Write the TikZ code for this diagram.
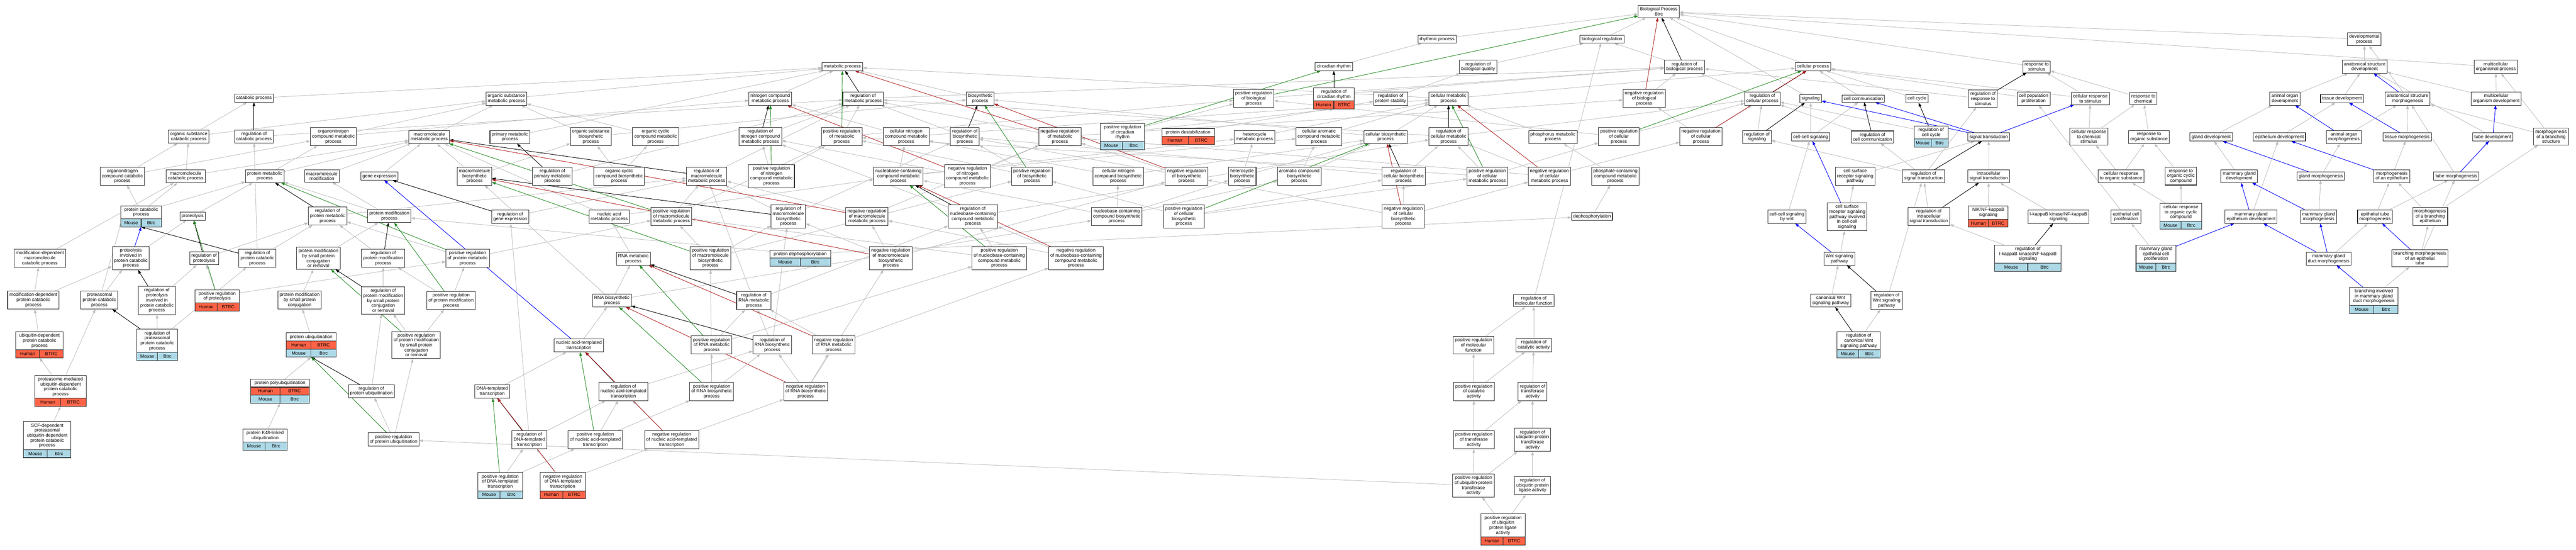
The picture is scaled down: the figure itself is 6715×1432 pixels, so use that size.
\documentclass[tikz,border=0pt]{standalone}
\usepackage{fontspec}
\setmainfont{Liberation Sans}
\usetikzlibrary{positioning,arrows.meta,backgrounds,calc}
\definecolor{tomato}{HTML}{FF6347}
\definecolor{lightblue}{HTML}{ADD8E6}
\definecolor{edgegray}{HTML}{C0C0C0}
\definecolor{posgreen}{HTML}{228B22}
\definecolor{negred}{HTML}{B22222}
\newcommand{\sprow}[6]{%
  \path let \p1 = ($(#1.east)-(#1.west)$) in
    node [name=#3-sp, #4, minimum width=0.5*\x1, below left=0pt and 0pt of #2] {#5}
    node [name=#3-gn, #4, minimum width=0.5*\x1, below right=0pt and 0pt of #2] {#6};}
\newcommand{\humanrow}[3]{\sprow{#1}{#2}{#3}{human}{Human}{BTRC}}
\newcommand{\mouserow}[3]{\sprow{#1}{#2}{#3}{mouse}{Mouse}{Btrc}}

\begin{document}
\begin{tikzpicture}[x=1pt, y=-1pt, font=\fontsize{12pt}{13pt}\selectfont,
	block/.style = { rectangle, draw=black!80, line width=1.4pt, fill=white,
	align=center, inner xsep=4.5pt, inner ysep=5pt, outer sep=0pt },
	spcell/.style = { rectangle, draw=black!80, line width=1.4pt,
	minimum height=21pt, inner sep=0pt, outer sep=0pt },
	human/.style = { spcell, fill=tomato },
	mouse/.style = { spcell, fill=lightblue },
	isa/.style = { draw=edgegray, line width=1.2pt, -{Triangle[length=10pt,width=7pt]} },
	regl/.style = { isa, draw=black },
	upreg/.style = { isa, draw=posgreen },
	downreg/.style = { isa, draw=negred },
	partof/.style = { isa, draw=blue } ]

  \useasboundingbox (0,0) rectangle (6715,1432);

  \node [name=bp, block] at (4324,30) {Biological Process\\Btrc};
  \node [name=rhythm, block] at (3746,102) {rhythmic process};
  \node [name=bioreg, block] at (4176,102) {biological regulation};
  \node [name=dev, block] at (6163,102) {developmental\\process};

  \node [name=metab, block] at (2196,174) {metabolic process};
  \node [name=circ, block] at (3477,174) {circadian rhythm};
  \node [name=regbq, block] at (3853,174) {regulation of\\biological quality};
  \node [name=regbp, block] at (4391,174) {regulation of\\biological process};
  \node [name=cellproc, block] at (4726,174) {cellular process};
  \node [name=resp, block] at (5309,174) {response to\\stimulus};
  \node [name=asdev, block] at (6164,174) {anatomical structure\\development};
  \node [name=mop, block] at (6506,174) {multicellular\\organismal process};

  \node [name=catab, block] at (662,256) {catabolic process};
  \node [name=osmet, block] at (1320,257) {organic substance\\metabolic process};
  \node [name=ncmet, block] at (2008,257) {nitrogen compound\\metabolic process};
  \node [name=regmet, block] at (2250,257) {regulation of\\metabolic process};
  \node [name=biosyn, block] at (2555,257) {biosynthetic\\process};
  \node [name=posregbp, block] at (3268,257) {positive regulation\\of biological\\process};
  \node [name=regcirc, block, minimum width=107pt] at (3477,246) {regulation of\\circadian rhythm};
  \humanrow{regcirc}{regcirc.south}{regcirc}
  \node [name=regpstab, block] at (3625,257) {regulation of\\protein stability};
  \node [name=cellmet, block] at (3776,257) {cellular metabolic\\process};
  \node [name=negregbp, block] at (4286,257) {negative regulation\\of biological\\process};
  \node [name=regcp, block] at (4594,257) {regulation of\\cellular process};
  \node [name=signal, block] at (4720,257) {signaling};
  \node [name=cellcom, block] at (4857,257) {cell communication};
  \node [name=cellcyc, block] at (4997,257) {cell cycle};
  \node [name=regresp, block] at (5169,257) {regulation of\\response to\\stimulus};
  \node [name=cellprol, block] at (5301,257) {cell population\\proliferation};
  \node [name=cresp, block] at (5449,257) {cellular response\\to stimulus};
  \node [name=respchem, block] at (5587,257) {response to\\chemical};
  \node [name=aodev, block] at (5956,257) {animal organ\\development};
  \node [name=tdev, block] at (6105,257) {tissue development};
  \node [name=asmorph, block] at (6276,257) {anatomical structure\\morphogenesis};
  \node [name=modev, block] at (6507,257) {multicellular\\organism development};

  \node [name=orgcat, block] at (492,356) {organic substance\\catabolic process};
  \node [name=regcat, block] at (662,356) {regulation of\\catabolic process};
  \node [name=onmet, block] at (869,356) {organonitrogen\\compound metabolic\\process};
  \node [name=mmmet, block] at (1119,357) {macromolecule\\metabolic process};
  \node [name=primet, block] at (1329,357) {primary metabolic\\process};
  \node [name=osbio, block] at (1540,356) {organic substance\\biosynthetic\\process};
  \node [name=occmet, block] at (1709,356) {organic cyclic\\compound metabolic\\process};
  \node [name=regncm, block] at (1982,356) {regulation of\\nitrogen compound\\metabolic process};
  \node [name=posregmet, block] at (2194,356) {positive regulation\\of metabolic\\process};
  \node [name=cncmet, block] at (2362,356) {cellular nitrogen\\compound metabolic\\process};
  \node [name=regbio, block] at (2515,356) {regulation of\\biosynthetic\\process};
  \node [name=negregmet, block] at (2763,356) {negative regulation\\of metabolic\\process};
  \node [name=poscirc, block, minimum width=116pt] at (2926,345) {positive regulation\\of circadian\\rhythm};
  \mouserow{poscirc}{poscirc.south}{poscirc}
  \node [name=pdestab, block, minimum width=137pt] at (3097,345) {protein destabilization};
  \humanrow{pdestab}{pdestab.south}{pdestab}
  \node [name=hetmet, block] at (3270,357) {heterocycle\\metabolic process};
  \node [name=caromet, block] at (3438,356) {cellular aromatic\\compound metabolic\\process};
  \node [name=cellbio, block] at (3612,357) {cellular biosynthetic\\process};
  \node [name=regcm, block] at (3776,356) {regulation of\\cellular metabolic\\process};
  \node [name=phosmet, block] at (4048,357) {phosphorus metabolic\\process};
  \node [name=posregcp, block] at (4220,356) {positive regulation\\of cellular\\process};
  \node [name=negregcp, block] at (4434,356) {negative regulation\\of cellular\\process};
  \node [name=regsig, block] at (4580,357) {regulation of\\signaling};
  \node [name=ccsig, block] at (4720,357) {cell-cell signaling};
  \node [name=regcc, block] at (4881,357) {regulation of\\cell communication};
  \node [name=regcyc, block, minimum width=89pt] at (5034,345) {regulation of\\cell cycle};
  \mouserow{regcyc}{regcyc.south}{regcyc}
  \node [name=sigtr, block] at (5184,357) {signal transduction};
  \node [name=crchem, block] at (5445,356) {cellular response\\to chemical\\stimulus};
  \node [name=resporg, block] at (5602,357) {response to\\organic substance};
  \node [name=glanddev, block] at (5764,357) {gland development};
  \node [name=epidev, block] at (5942,357) {epithelium development};
  \node [name=aomorph, block] at (6110,357) {animal organ\\morphogenesis};
  \node [name=tmorph, block] at (6275,357) {tissue morphogenesis};
  \node [name=tubedev, block] at (6498,357) {tube development};
  \node [name=mbs, block] at (6650,356) {morphogenesis\\of a branching\\structure};

  \node [name=oncat, block] at (319,459) {organonitrogen\\compound catabolic\\process};
  \node [name=mmcat, block] at (484,459) {macromolecule\\catabolic process};
  \node [name=protmet, block] at (690,459) {protein metabolic\\process};
  \node [name=mmmod, block] at (839,459) {macromolecule\\modification};
  \node [name=genex, block] at (989,459) {gene expression};
  \node [name=mmbio, block] at (1237,459) {macromolecule\\biosynthetic\\process};
  \node [name=regprim, block] at (1440,459) {regulation of\\primary metabolic\\process};
  \node [name=occbio, block] at (1614,459) {organic cyclic\\compound biosynthetic\\process};
  \node [name=regmmm, block] at (1842,459) {regulation of\\macromolecule\\metabolic process};
  \node [name=posregncm, block] at (2011,459) {positive regulation\\of nitrogen\\compound metabolic\\process};
  \node [name=nbcmet, block] at (2342,459) {nucleobase-containing\\compound metabolic\\process};
  \node [name=negregncm, block] at (2522,459) {negative regulation\\of nitrogen\\compound metabolic\\process};
  \node [name=posregbio, block] at (2690,459) {positive regulation\\of biosynthetic\\process};
  \node [name=cncbio, block] at (2915,459) {cellular nitrogen\\compound biosynthetic\\process};
  \node [name=negregbio, block] at (3093,459) {negative regulation\\of biosynthetic\\process};
  \node [name=hetbio, block] at (3238,459) {heterocycle\\biosynthetic\\process};
  \node [name=arombio, block] at (3387,459) {aromatic compound\\biosynthetic\\process};
  \node [name=regcb, block] at (3659,459) {regulation of\\cellular biosynthetic\\process};
  \node [name=posregcm, block] at (3877,459) {positive regulation\\of cellular\\metabolic process};
  \node [name=negregcm, block] at (4039,459) {negative regulation\\of cellular\\metabolic process};
  \node [name=phcmet, block] at (4211,459) {phosphate-containing\\compound metabolic\\process};
  \node [name=csrsp, block] at (4836,459) {cell surface\\receptor signaling\\pathway};
  \node [name=regsigtr, block] at (5014,459) {regulation of\\signal transduction};
  \node [name=intsig, block] at (5184,459) {intracellular\\signal transduction};
  \node [name=crorg, block] at (5529,459) {cellular response\\to organic substance};
  \node [name=rocc, block] at (5685,459) {response to\\organic cyclic\\compound};
  \node [name=mgdev, block] at (5837,459) {mammary gland\\development};
  \node [name=gmorph, block] at (6050,459) {gland morphogenesis};
  \node [name=mepi, block] at (6235,459) {morphogenesis\\of an epithelium};
  \node [name=tubemorph, block] at (6403,459) {tube morphogenesis};

  \node [name=protcat, block, minimum width=105pt] at (368,553) {protein catabolic\\process};
  \mouserow{protcat}{protcat.south}{protcat}
  \node [name=proteol, block] at (502,563) {proteolysis};
  \node [name=regpm, block] at (854,563) {regulation of\\protein metabolic\\process};
  \node [name=pmod, block] at (1015,563) {protein modification\\process};
  \node [name=reggex, block] at (1330,565) {regulation of\\gene expression};
  \node [name=nametab, block] at (1588,565) {nucleic acid\\metabolic process};
  \node [name=posregmmm, block] at (1750,564) {positive regulation\\of macromolecule\\metabolic process};
  \node [name=regmmb, block] at (2055,564) {regulation of\\macromolecule\\biosynthetic\\process};
  \node [name=negregmmm, block] at (2260,564) {negative regulation\\of macromolecule\\metabolic process};
  \node [name=regnbc, block] at (2536,564) {regulation of\\nucleobase-containing\\compound metabolic\\process};
  \node [name=nbcbio, block] at (2911,564) {nucleobase-containing\\compound biosynthetic\\process};
  \node [name=posregcb, block] at (3086,564) {positive regulation\\of cellular\\biosynthetic\\process};
  \node [name=negregcb, block] at (3658,564) {negative regulation\\of cellular\\biosynthetic\\process};
  \node [name=dephos, block] at (4150,564) {dephosphorylation};
  \node [name=ccwnt, block] at (4658,565) {cell-cell signaling\\by wnt};
  \node [name=csrcc, block] at (4815,565) {cell surface\\receptor signaling\\pathway involved\\in cell-cell\\signaling};
  \node [name=regint, block] at (5028,564) {regulation of\\intracellular\\signal transduction};
  \node [name=nik, block, minimum width=103pt] at (5183,554) {NIK/NF-kappaB\\signaling};
  \humanrow{nik}{nik.south}{nik}
  \node [name=ikk, block] at (5366,565) {I-kappaB kinase/NF-kappaB\\signaling};
  \node [name=epiprol, block] at (5542,565) {epithelial cell\\proliferation};
  \node [name=crocc, block, minimum width=108pt] at (5685,553) {cellular response\\to organic cyclic\\compound};
  \mouserow{crocc}{crocc.south}{crocc}
  \node [name=mged, block] at (5868,565) {mammary gland\\epithelium development};
  \node [name=mgmorph, block] at (6044,565) {mammary gland\\morphogenesis};
  \node [name=etmorph, block] at (6191,565) {epithelial tube\\morphogenesis};
  \node [name=mbe, block] at (6335,564) {morphogenesis\\of a branching\\epithelium};

  \node [name=mdmcat, block] at (104,673) {modification-dependent\\macromolecule\\catabolic process};
  \node [name=pipc, block] at (341,673) {proteolysis\\involved in\\protein catabolic\\process};
  \node [name=regprot, block] at (532,673) {regulation of\\proteolysis};
  \node [name=regpc, block] at (671,673) {regulation of\\protein catabolic\\process};
  \node [name=pmsp, block] at (830,673) {protein modification\\by small protein\\conjugation\\or removal};
  \node [name=regpmod, block] at (999,673) {regulation of\\protein modification\\process};
  \node [name=posregpm, block] at (1219,673) {positive regulation\\of protein metabolic\\process};
  \node [name=rnamet, block] at (1651,674) {RNA metabolic\\process};
  \node [name=posregmmb, block] at (1852,673) {positive regulation\\of macromolecule\\biosynthetic\\process};
  \node [name=pdephos, block, minimum width=158pt] at (2086,662) {protein dephosphorylation};
  \mouserow{pdephos}{pdephos.south}{pdephos}
  \node [name=negregmmb, block] at (2322,673) {negative regulation\\of macromolecule\\biosynthetic\\process};
  \node [name=posregnbc, block] at (2605,673) {positive regulation\\of nucleobase-containing\\compound metabolic\\process};
  \node [name=negregnbc, block] at (2805,673) {negative regulation\\of nucleobase-containing\\compound metabolic\\process};
  \node [name=wnt, block] at (4795,674) {Wnt signaling\\pathway};
  \node [name=regikk, block, minimum width=174pt] at (5286,662) {regulation of\\I-kappaB kinase/NF-kappaB\\signaling};
  \mouserow{regikk}{regikk.south}{regikk}
  \node [name=mgecp, block, minimum width=104pt] at (5620,662) {mammary gland\\epithelial cell\\proliferation};
  \mouserow{mgecp}{mgecp.south}{mgecp}
  \node [name=mgdm, block] at (6070,674) {mammary gland\\duct morphogenesis};
  \node [name=bmet, block] at (6308,673) {branching morphogenesis\\of an epithelial\\tube};

  \node [name=mdpcat, block] at (87,782) {modification-dependent\\protein catabolic\\process};
  \node [name=ppcat, block] at (259,782) {proteasomal\\protein catabolic\\process};
  \node [name=regpipc, block] at (409,783) {regulation of\\proteolysis\\involved in\\protein catabolic\\process};
  \node [name=posprot, block, minimum width=115pt] at (566,772) {positive regulation\\of proteolysis};
  \humanrow{posprot}{posprot.south}{posprot}
  \node [name=pmspc, block] at (781,782) {protein modification\\by small protein\\conjugation};
  \node [name=regpmsp, block] at (999,783) {regulation of\\protein modification\\by small protein\\conjugation\\or removal};
  \node [name=posregpmod, block] at (1176,783) {positive regulation\\of protein modification\\process};
  \node [name=rnabio, block] at (1595,783) {RNA biosynthetic\\process};
  \node [name=regrnam, block] at (1965,783) {regulation of\\RNA metabolic\\process};
  \node [name=regmf, block] at (3998,783) {regulation of\\molecular function};
  \node [name=cwnt, block] at (4772,783) {canonical Wnt\\signaling pathway};
  \node [name=regwnt, block] at (4918,783) {regulation of\\Wnt signaling\\pathway};
  \node [name=bimgdm, block, minimum width=127pt] at (6188,772) {branching involved\\in mammary gland\\duct morphogenesis};
  \mouserow{bimgdm}{bimgdm.south}{bimgdm}

  \node [name=ubcat, block, minimum width=124pt] at (103,888) {ubiquitin-dependent\\protein catabolic\\process};
  \humanrow{ubcat}{ubcat.south}{ubcat}
  \node [name=regppc, block, minimum width=106pt] at (410,888) {regulation of\\proteasomal\\protein catabolic\\process};
  \mouserow{regppc}{regppc.south}{regppc}
  \node [name=pubq, block, minimum width=130pt] at (811,878) {protein ubiquitination};
  \humanrow{pubq}{pubq.south}{pubq}
  \mouserow{pubq}{pubq-sp.south east}{pubq2}
  \node [name=posregpmsp, block] at (1085,899) {positive regulation\\of protein modification\\by small protein\\conjugation\\or removal};
  \node [name=natt, block] at (1509,900) {nucleic acid-templated\\transcription};
  \node [name=posrnam, block] at (1855,899) {positive regulation\\of RNA metabolic\\process};
  \node [name=regrnab, block] at (2013,899) {regulation of\\RNA biosynthetic\\process};
  \node [name=negrnam, block] at (2173,899) {negative regulation\\of RNA metabolic\\process};
  \node [name=posregmf, block] at (3841,899) {positive regulation\\of molecular\\function};
  \node [name=regcata, block] at (3998,899) {regulation of\\catalytic activity};
  \node [name=regcwnt, block, minimum width=113pt] at (4845,888) {regulation of\\canonical Wnt\\signaling pathway};
  \mouserow{regcwnt}{regcwnt.south}{regcwnt}

  \node [name=pmubq, block, minimum width=134pt] at (158,1008) {proteasome-mediated\\ubiquitin-dependent\\protein catabolic\\process};
  \humanrow{pmubq}{pmubq.south}{pmubq}
  \node [name=polyubq, block, minimum width=152pt] at (730,998) {protein polyubiquitination};
  \humanrow{polyubq}{polyubq.south}{polyubq}
  \mouserow{polyubq}{polyubq-sp.south east}{polyubq2}
  \node [name=regpubq, block] at (968,1019) {regulation of\\protein ubiquitination};
  \node [name=dnatt, block] at (1283,1020) {DNA-templated\\transcription};
  \node [name=regnatt, block] at (1625,1020) {regulation of\\nucleic acid-templated\\transcription};
  \node [name=posrnab, block] at (1855,1020) {positive regulation\\of RNA biosynthetic\\process};
  \node [name=negrnab, block] at (2100,1020) {negative regulation\\of RNA biosynthetic\\process};
  \node [name=posregcata, block] at (3842,1020) {positive regulation\\of catalytic\\activity};
  \node [name=regtra, block] at (3995,1020) {regulation of\\transferase\\activity};

  \node [name=scf, block, minimum width=124pt] at (123,1135) {SCF-dependent\\proteasomal\\ubiquitin-dependent\\protein catabolic\\process};
  \mouserow{scf}{scf.south}{scf}
  \node [name=k48, block, minimum width=115pt] at (691,1135) {protein K48-linked\\ubiquitination};
  \mouserow{k48}{k48.south}{k48}
  \node [name=posregpubq, block] at (1026,1145) {positive regulation\\of protein ubiquitination};
  \node [name=regdnatt, block] at (1380,1146) {regulation of\\DNA-templated\\transcription};
  \node [name=posnatt, block] at (1552,1146) {positive regulation\\of nucleic acid-templated\\transcription};
  \node [name=negnatt, block] at (1751,1146) {negative regulation\\of nucleic acid-templated\\transcription};
  \node [name=posregtra, block] at (3842,1146) {positive regulation\\of transferase\\activity};
  \node [name=regubtra, block] at (3995,1146) {regulation of\\ubiquitin-protein\\transferase\\activity};

  \node [name=posdnatt, block, minimum width=116pt] at (1304,1255) {positive regulation\\of DNA-templated\\transcription};
  \mouserow{posdnatt}{posdnatt.south}{posdnatt}
  \node [name=negdnatt, block, minimum width=119pt] at (1467,1255) {negative regulation\\of DNA-templated\\transcription};
  \humanrow{negdnatt}{negdnatt.south}{negdnatt}
  \node [name=posregubtra, block] at (3841,1265) {positive regulation\\of ubiquitin-protein\\transferase\\activity};
  \node [name=regubl, block] at (3995,1265) {regulation of\\ubiquitin protein\\ligase activity};
  \node [name=posregubl, block, minimum width=116pt] at (3918,1369) {positive regulation\\of ubiquitin\\protein ligase\\activity};
  \humanrow{posregubl}{posregubl.south}{posregubl}

  \begin{scope}[on background layer]
  \fill [white] (0,0) rectangle (6715,1432);
  \draw [isa] (catab) -- (metab);
  \draw [isa] (orgcat) -- (catab);
  \draw [isa] (orgcat) -- (osmet);
  \draw [isa] (regcat) -- (regmet);
  \draw [isa] (onmet) -- (osmet);
  \draw [isa] (onmet) -- (ncmet);
  \draw [isa] (mmmet) -- (osmet);
  \draw [isa] (oncat) -- (orgcat);
  \draw [isa] (oncat) -- (onmet);
  \draw [isa] (mmcat) -- (orgcat);
  \draw [isa] (mmcat) -- (mmmet);
  \draw [isa] (protmet) -- (onmet);
  \draw [isa] (protmet) -- (mmmet);
  \draw [isa] (mmmod) -- (mmmet);
  \draw [isa] (genex) -- (mmmet);
  \draw [isa] (protcat) -- (oncat);
  \draw [isa] (protcat) -- (mmcat);
  \draw [isa] (protcat) -- (protmet);
  \draw [isa] (proteol) -- (protmet);
  \draw [isa] (regpm) -- (regmmm);
  \draw [isa] (pmod) -- (mmmod);
  \draw [isa] (pmod) -- (protmet);
  \draw [isa] (mdmcat) -- (mmcat);
  \draw [isa] (pipc) -- (proteol);
  \draw [isa] (regprot) -- (regpm);
  \draw [isa] (regpc) -- (regcat);
  \draw [isa] (regpc) -- (regpm);
  \draw [isa] (pmsp) -- (pmod);
  \draw [isa] (regpmod) -- (regpm);
  \draw [isa] (mdpcat) -- (mdmcat);
  \draw [isa] (mdpcat) -- (pipc);
  \draw [isa] (ppcat) -- (pipc);
  \draw [isa] (ppcat) -- (protcat-sp.west);
  \draw [isa] (regpipc) -- (regprot);
  \draw [isa] (posprot) -- (regprot);
  \draw [isa] (posprot) -- (posregpm);
  \draw [isa] (pmspc) -- (pmsp);
  \draw [isa] (regpmsp) -- (regpmod);
  \draw [isa] (posregpmod) -- (regpmod);
  \draw [isa] (posregpmod) -- (posregpm);
  \draw [isa] (ubcat) -- (mdpcat);
  \draw [isa] (pmubq) -- (ubcat-sp.south east);
  \draw [isa] (pmubq) -- (ppcat);
  \draw [isa] (scf) -- (pmubq-sp.south east);
  \draw [isa] (regppc) -- (regpipc);
  \draw [isa] (regppc) -- (regpc);
  \draw [isa] (pubq) -- (pmspc);
  \draw [isa] (polyubq) -- (pubq2-sp.south east);
  \draw [isa] (k48) -- (polyubq2-sp.south east);
  \draw [isa] (regpubq) -- (regpmsp);
  \draw [isa] (posregpubq) -- (regpubq);
  \draw [isa] (posregpubq) -- (posregpmsp);
  \draw [isa] (posregpmsp) -- (regpmsp);
  \draw [isa] (posregpmsp) -- (posregpmod);
  \draw [isa] (posregpm) -- (regpm);
  \draw [isa] (posregpm) -- (posregmmm);
  \draw [isa] (pdephos) -- (pmod);
  \draw [isa] (pdephos) -- (dephos);
  \draw [isa] (osmet) -- (metab);
  \draw [isa] (ncmet) -- (metab);
  \draw [isa] (primet) -- (metab);
  \draw [isa] (biosyn) -- (metab);
  \draw [isa] (cellmet) -- (metab);
  \draw [isa] (osbio) -- (osmet);
  \draw [isa] (osbio) -- (biosyn);
  \draw [isa] (occmet) -- (osmet);
  \draw [isa] (mmbio) -- (mmmet);
  \draw [isa] (mmbio) -- (osbio);
  \draw [isa] (regprim) -- (regmet);
  \draw [isa] (occbio) -- (occmet);
  \draw [isa] (occbio) -- (osbio);
  \draw [isa] (regmmm) -- (regmet);
  \draw [isa] (regncm) -- (regmet);
  \draw [isa] (posregncm) -- (regncm);
  \draw [isa] (posregncm) -- (posregmet);
  \draw [isa] (posregmet) -- (regmet);
  \draw [isa] (posregmet) -- (posregbp);
  \draw [isa] (reggex) -- (regmmm);
  \draw [isa] (nametab) -- (nbcmet);
  \draw [isa] (nametab) -- (mmmet);
  \draw [isa] (posregmmm) -- (regmmm);
  \draw [isa] (posregmmm) -- (posregmet);
  \draw [isa] (regmmb) -- (regmmm);
  \draw [isa] (regmmb) -- (regbio);
  \draw [isa] (negregmmm) -- (regmmm);
  \draw [isa] (negregmmm) -- (negregmet);
  \draw [isa] (rnamet) -- (nametab);
  \draw [isa] (posregmmb) -- (posregmmm);
  \draw [isa] (posregmmb) -- (regmmb);
  \draw [isa] (posregmmb) -- (posregbio);
  \draw [isa] (rnabio) -- (rnamet);
  \draw [isa] (rnabio) -- (nbcbio);
  \draw [isa] (rnabio) -- (mmbio);
  \draw [isa] (regrnam) -- (regnbc);
  \draw [isa] (regrnam) -- (regmmm);
  \draw [isa] (natt) -- (rnabio);
  \draw [isa] (posrnam) -- (regrnam);
  \draw [isa] (posrnam) -- (posregnbc);
  \draw [isa] (regrnab) -- (regrnam);
  \draw [isa] (regrnab) -- (regmmb);
  \draw [isa] (negrnam) -- (regrnam);
  \draw [isa] (negrnam) -- (negregnbc);
  \draw [isa] (dnatt) -- (natt);
  \draw [isa] (regnatt) -- (regrnab);
  \draw [isa] (posrnab) -- (posrnam);
  \draw [isa] (posrnab) -- (regrnab);
  \draw [isa] (posrnab) -- (posregmmb);
  \draw [isa] (negrnab) -- (regrnab);
  \draw [isa] (negrnab) -- (negrnam);
  \draw [isa] (negrnab) -- (negregmmb);
  \draw [isa] (regdnatt) -- (regnatt);
  \draw [isa] (regdnatt) -- (reggex);
  \draw [isa] (posnatt) -- (regnatt);
  \draw [isa] (posnatt) -- (posrnab);
  \draw [isa] (negnatt) -- (regnatt);
  \draw [isa] (negnatt) -- (negrnab);
  \draw [isa] (posdnatt) -- (regdnatt);
  \draw [isa] (posdnatt) -- (posnatt);
  \draw [isa] (negdnatt) -- (regdnatt);
  \draw [isa] (negdnatt) -- (negnatt);
  \draw [isa] (posregubtra) -- (posregpubq);
  \draw [isa] (cncmet) -- (ncmet);
  \draw [isa] (cncmet) -- (cellmet);
  \draw [isa] (regbio) -- (regmet);
  \draw [isa] (negregmet) -- (regmet);
  \draw [isa] (negregmet) -- (negregbp);
  \draw [isa] (poscirc) -- (posregbp);
  \draw [isa] (poscirc) -- (regcirc-sp.south east);
  \draw [isa] (pdestab) -- (regpstab);
  \draw [isa] (hetmet) -- (cellmet);
  \draw [isa] (nbcmet) -- (cncmet);
  \draw [isa] (nbcmet) -- (hetmet);
  \draw [isa] (nbcmet) -- (caromet);
  \draw [isa] (negregncm) -- (regncm);
  \draw [isa] (negregncm) -- (negregmet);
  \draw [isa] (posregbio) -- (regbio);
  \draw [isa] (posregbio) -- (posregmet);
  \draw [isa] (cncbio) -- (cncmet);
  \draw [isa] (cncbio) -- (cellbio);
  \draw [isa] (negregbio) -- (regbio);
  \draw [isa] (negregbio) -- (negregmet);
  \draw [isa] (hetbio) -- (hetmet);
  \draw [isa] (hetbio) -- (cellbio);
  \draw [isa] (arombio) -- (caromet);
  \draw [isa] (arombio) -- (cellbio);
  \draw [isa] (regnbc) -- (regncm);
  \draw [isa] (regnbc) -- (regcm);
  \draw [isa] (nbcbio) -- (nbcmet);
  \draw [isa] (nbcbio) -- (cncbio);
  \draw [isa] (nbcbio) -- (hetbio);
  \draw [isa] (nbcbio) -- (arombio);
  \draw [isa] (posregcb) -- (regcb);
  \draw [isa] (posregcb) -- (posregbio);
  \draw [isa] (posregcb) -- (posregcm);
  \draw [isa] (negregmmb) -- (negregmmm);
  \draw [isa] (negregmmb) -- (regmmb);
  \draw [isa] (negregmmb) -- (negregbio);
  \draw [isa] (posregnbc) -- (regnbc);
  \draw [isa] (posregnbc) -- (posregmmm);
  \draw [isa] (negregnbc) -- (regnbc);
  \draw [isa] (negregnbc) -- (negregmmm);
  \draw [isa] (rhythm) -- (bp);
  \draw [isa] (bioreg) -- (bp);
  \draw [isa] (cellproc) -- (bp);
  \draw [isa] (resp) -- (bp);
  \draw [isa] (dev) -- (bp);
  \draw [isa] (mop) -- (bp);
  \draw [isa] (signal) -- (bp);
  \draw [isa] (circ) -- (rhythm);
  \draw [isa] (regbq) -- (bioreg);
  \draw [isa] (regbp) -- (bioreg);
  \draw [isa] (regmf) -- (bioreg);
  \draw [isa] (regcirc) -- (regbp);
  \draw [isa] (regmet) -- (regbp);
  \draw [isa] (regpstab) -- (regbq);
  \draw [isa] (negregbp) -- (regbp);
  \draw [isa] (posregbp) -- (regbp);
  \draw [isa] (cellmet) -- (cellproc);
  \draw [isa] (caromet) -- (cellmet);
  \draw [isa] (cellbio) -- (cellmet);
  \draw [isa] (cellbio) -- (biosyn);
  \draw [isa] (phosmet) -- (cellmet);
  \draw [isa] (posregcp) -- (regcp);
  \draw [isa] (posregcp) -- (posregbp);
  \draw [isa] (negregcp) -- (regcp);
  \draw [isa] (negregcp) -- (negregbp);
  \draw [isa] (regcb) -- (regcm);
  \draw [isa] (regcb) -- (regbio);
  \draw [isa] (regcm) -- (regcp);
  \draw [isa] (regcm) -- (regmet);
  \draw [isa] (posregcm) -- (regcm);
  \draw [isa] (posregcm) -- (posregcp);
  \draw [isa] (posregcm) -- (posregmet);
  \draw [isa] (negregcm) -- (regcm);
  \draw [isa] (negregcm) -- (negregcp);
  \draw [isa] (negregcm) -- (negregmet);
  \draw [isa] (phcmet) -- (phosmet);
  \draw [isa] (negregcb) -- (regcb);
  \draw [isa] (negregcb) -- (negregcm);
  \draw [isa] (negregcb) -- (negregbio);
  \draw [isa] (dephos) -- (phcmet);
  \draw [isa] (regcp) -- (regbp);
  \draw [isa] (posregmf) -- (regmf);
  \draw [isa] (regcata) -- (regmf);
  \draw [isa] (posregcata) -- (posregmf);
  \draw [isa] (posregcata) -- (regcata);
  \draw [isa] (regtra) -- (regcata);
  \draw [isa] (posregtra) -- (posregcata);
  \draw [isa] (posregtra) -- (regtra);
  \draw [isa] (regubtra) -- (regtra);
  \draw [isa] (posregubtra) -- (posregtra);
  \draw [isa] (posregubtra) -- (regubtra);
  \draw [isa] (regubl) -- (regubtra);
  \draw [isa] (posregubl) -- (posregubtra);
  \draw [isa] (posregubl) -- (regubl);
  \draw [isa] (cellcom) -- (cellproc);
  \draw [isa] (cellcyc) -- (cellproc);
  \draw [isa] (cellprol) -- (cellproc);
  \draw [isa] (cresp) -- (cellproc);
  \draw [isa] (regresp) -- (regbp);
  \draw [isa] (cresp) -- (resp);
  \draw [isa] (respchem) -- (resp);
  \draw [isa] (regsig) -- (regcp);
  \draw [isa] (ccsig) -- (signal);
  \draw [isa] (ccsig) -- (cellcom);
  \draw [isa] (regcc) -- (regcp);
  \draw [isa] (regcyc) -- (regcp);
  \draw [isa] (crchem) -- (cresp);
  \draw [isa] (crchem) -- (respchem);
  \draw [isa] (resporg) -- (respchem);
  \draw [isa] (csrsp) -- (sigtr);
  \draw [isa] (regsigtr) -- (regsig);
  \draw [isa] (regsigtr) -- (regcc);
  \draw [isa] (regsigtr) -- (regresp);
  \draw [isa] (intsig) -- (sigtr);
  \draw [isa] (crorg) -- (crchem);
  \draw [isa] (crorg) -- (resporg);
  \draw [isa] (ccwnt) -- (ccsig);
  \draw [isa] (csrcc) -- (csrsp);
  \draw [isa] (regint) -- (regsigtr);
  \draw [isa] (nik) -- (intsig);
  \draw [isa] (ikk) -- (intsig);
  \draw [isa] (epiprol) -- (cellprol);
  \draw [isa] (wnt) -- (csrcc);
  \draw [isa] (cwnt) -- (wnt);
  \draw [isa] (regwnt) -- (regsigtr);
  \draw [isa] (regikk) -- (regint);
  \draw [isa] (mgecp) -- (epiprol);
  \draw [isa] (regcwnt) -- (regwnt);
  \draw [isa] (asdev) -- (dev);
  \draw [isa] (asmorph) -- (dev);
  \draw [isa] (aodev) -- (asdev);
  \draw [isa] (tdev) -- (asdev);
  \draw [isa] (modev) -- (asdev);
  \draw [isa] (modev) -- (mop);
  \draw [isa] (tubedev) -- (asdev);
  \draw [isa] (mbs) -- (asmorph);
  \draw [isa] (mbs) -- (mop);
  \draw [isa] (glanddev) -- (aodev);
  \draw [isa] (epidev) -- (tdev);
  \draw [isa] (aomorph) -- (asmorph);
  \draw [isa] (tmorph) -- (asmorph);
  \draw [isa] (rocc) -- (resporg);
  \draw [isa] (mgdev) -- (glanddev);
  \draw [isa] (gmorph) -- (aomorph);
  \draw [isa] (mepi) -- (tmorph);
  \draw [isa] (tubemorph) -- (asmorph);
  \draw [isa] (crocc) -- (rocc);
  \draw [isa] (crocc) -- (crorg);
  \draw [isa] (mged) -- (epidev);
  \draw [isa] (mgmorph) -- (gmorph);
  \draw [isa] (etmorph) -- (mepi);
  \draw [isa] (etmorph) -- (tubemorph);
  \draw [isa] (mbe) -- (mepi);
  \draw [isa] (mbe) -- (mbs);
  \draw [isa] (mgdm) -- (etmorph);
  \draw [isa] (bmet) -- (mbe);
  \draw [isa] (bmet) -- (tubemorph);
  \draw [isa] (bimgdm) -- (bmet);

  \draw [regl] (regcat) -- (catab);
  \draw [regl] (regpm) -- (protmet);
  \draw [regl] (reggex) -- (genex);
  \draw [regl] (regpc) -- (protcat-sp.south east);
  \draw [regl] (regprot) -- (proteol);
  \draw [regl] (regpmod) -- (pmod);
  \draw [regl] (regpipc) -- (pipc);
  \draw [regl] (regpmsp) -- (pmsp);
  \draw [regl] (regppc) -- (ppcat);
  \draw [regl] (regpubq) -- (pubq2-sp.south east);
  \draw [regl] (regncm) -- (ncmet);
  \draw [regl] (regmet) -- (metab);
  \draw [regl] (regmmm) -- (mmmet);
  \draw [regl] (regprim) -- (primet);
  \draw [regl] (regmmb) -- (mmbio);
  \draw [regl] (regrnam) -- (rnamet);
  \draw [regl] (regrnab) -- (rnabio);
  \draw [regl] (regnatt) -- (natt);
  \draw [regl] (regdnatt) -- (dnatt);
  \draw [regl] (regnbc) -- (nbcmet);
  \draw [regl] (regbio) -- (biosyn);
  \draw [regl] (regcirc) -- (circ);
  \draw [regl] (regbp) -- (bp);
  \draw [regl] (regcm) -- (cellmet);
  \draw [regl] (regcb) -- (cellbio);
  \draw [regl] (regcp) -- (cellproc);
  \draw [regl] (regresp) -- (resp);
  \draw [regl] (regsig) -- (signal);
  \draw [regl] (regcc) -- (cellcom);
  \draw [regl] (regcyc) -- (cellcyc);
  \draw [regl] (regsigtr) -- (sigtr);
  \draw [regl] (regint) -- (intsig);
  \draw [regl] (regwnt) -- (wnt);
  \draw [regl] (regikk) -- (ikk);
  \draw [regl] (regcwnt) -- (cwnt);

  \draw [upreg] (posprot) -- (proteol);
  \draw [upreg] (posregpm) -- (protmet);
  \draw [upreg] (posregpmod) -- (pmod);
  \draw [upreg] (posregpmsp) -- (pmsp);
  \draw [upreg] (posregpubq) -- (pubq2-sp.south east);
  \draw [upreg] (posregmmm) -- (mmmet);
  \draw [upreg] (posregmmb) -- (mmbio);
  \draw [upreg] (posregncm) -- (ncmet);
  \draw [upreg] (posregmet) -- (metab);
  \draw [upreg] (posrnam) -- (rnamet);
  \draw [upreg] (posrnab) -- (rnabio);
  \draw [upreg] (posnatt) -- (natt);
  \draw [upreg] (posdnatt) -- (dnatt);
  \draw [upreg] (posregbio) -- (biosyn);
  \draw [upreg] (posregnbc) -- (nbcmet);
  \draw [upreg] (posregbp) -- (bp);
  \draw [upreg] (poscirc) -- (circ);
  \draw [upreg] (posregcp) -- (cellproc);
  \draw [upreg] (posregcm) -- (cellmet);
  \draw [upreg] (posregcb) -- (cellbio);

  \draw [downreg] (negregmmm) -- (mmmet);
  \draw [downreg] (negregmmb) -- (mmbio);
  \draw [downreg] (negregncm) -- (ncmet);
  \draw [downreg] (negregmet) -- (metab);
  \draw [downreg] (negrnam) -- (rnamet);
  \draw [downreg] (negrnab) -- (rnabio);
  \draw [downreg] (negnatt) -- (natt);
  \draw [downreg] (negdnatt) -- (dnatt);
  \draw [downreg] (negregbio) -- (biosyn);
  \draw [downreg] (negregnbc) -- (nbcmet);
  \draw [downreg] (negregbp) -- (bp);
  \draw [downreg] (negregcp) -- (cellproc);
  \draw [downreg] (negregcm) -- (cellmet);
  \draw [downreg] (negregcb) -- (cellbio);

  \draw [partof] (pipc) -- (protcat-sp.south east);
  \draw [partof] (natt) -- (genex);
  \draw [partof] (sigtr) -- (signal);
  \draw [partof] (sigtr) -- (cellcom);
  \draw [partof] (sigtr) -- (cresp);
  \draw [partof] (csrcc) -- (ccsig);
  \draw [partof] (wnt) -- (ccwnt);
  \draw [partof] (asmorph) -- (asdev);
  \draw [partof] (aomorph) -- (aodev);
  \draw [partof] (tmorph) -- (tdev);
  \draw [partof] (tubedev) -- (modev);
  \draw [partof] (gmorph) -- (glanddev);
  \draw [partof] (mepi) -- (epidev);
  \draw [partof] (tubemorph) -- (tubedev);
  \draw [partof] (mged) -- (mgdev);
  \draw [partof] (mgmorph) -- (mgdev);
  \draw [partof] (mgecp) -- (mged);
  \draw [partof] (mgdm) -- (mged);
  \draw [partof] (mgdm) -- (mgmorph);
  \draw [partof] (bmet) -- (etmorph);
  \draw [partof] (bimgdm) -- (mgdm);
  \end{scope}
\end{tikzpicture}
\end{document}
